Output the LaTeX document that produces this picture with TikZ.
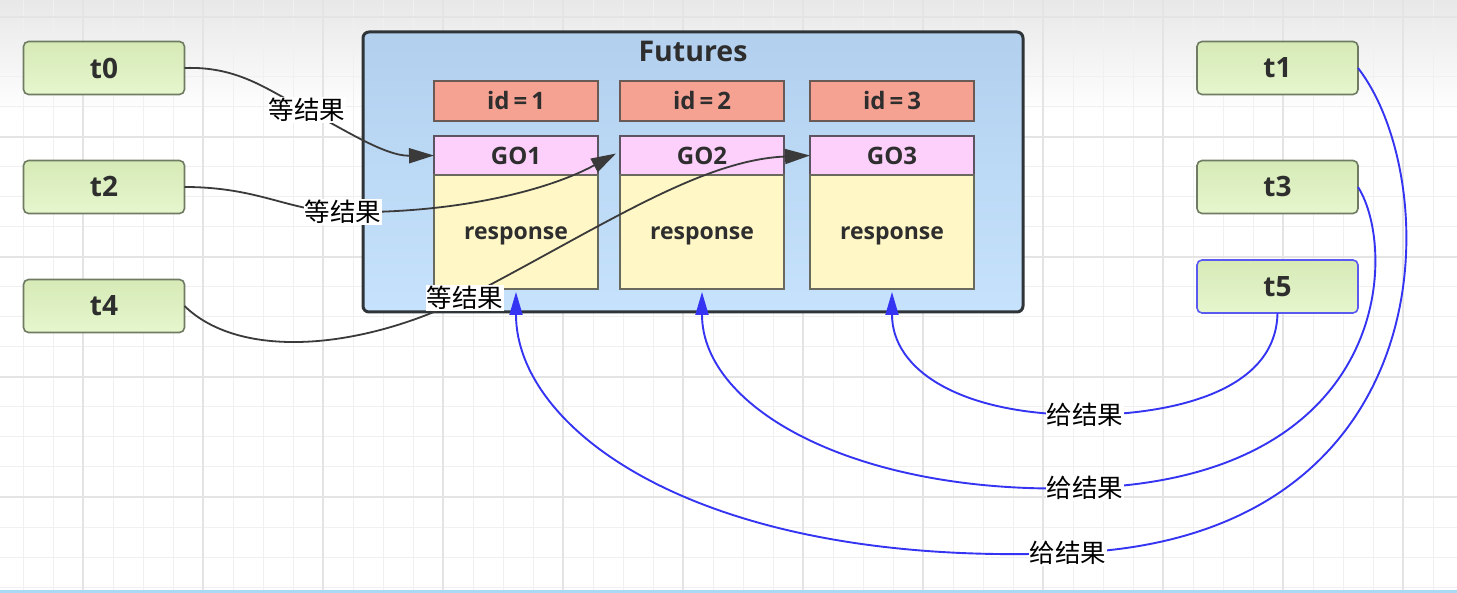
\documentclass[tikz,border=0pt]{standalone}
\usepackage{fontspec}
\setmainfont{Open Sans}
\newfontfamily\cjk{Noto Sans CJK SC}
\usetikzlibrary{arrows.meta}
\definecolor{txt}{HTML}{2E2E2E}
\definecolor{tfillA}{HTML}{D6EAB6}
\definecolor{tfillB}{HTML}{E6F6CE}
\definecolor{tborder}{HTML}{6F7C63}
\definecolor{tblue}{HTML}{5A5AF0}
\definecolor{futA}{HTML}{B2D0EE}
\definecolor{futB}{HTML}{C6E2FC}
\definecolor{futborder}{HTML}{2F3438}
\definecolor{idfill}{HTML}{F5A292}
\definecolor{idborder}{HTML}{6A5A56}
\definecolor{gofill}{HTML}{FCD0FB}
\definecolor{goborder}{HTML}{5C5460}
\definecolor{respfill}{HTML}{FFF7C6}
\definecolor{respborder}{HTML}{6A695E}
\definecolor{darkline}{HTML}{3A3A3A}
\definecolor{blueline}{HTML}{3434F2}
\definecolor{gridminor}{HTML}{F0F0F0}
\definecolor{gridmajor}{HTML}{E4E4E4}
\definecolor{bottomline}{HTML}{A9D8F2}
\begin{document}
\begin{tikzpicture}[x=1pt,y=-1pt,
  tnode/.style={rectangle, rounded corners=5pt, draw=tborder, line width=1.6pt,
    top color=tfillA, bottom color=tfillB, minimum width=161pt, minimum height=53pt,
    inner sep=0pt, outer sep=0pt, text=txt, font=\fontsize{28}{30}\selectfont\bfseries},
  futbox/.style={rectangle, rounded corners=6pt, draw=futborder, line width=3pt,
    top color=futA, bottom color=futB, minimum width=660pt, minimum height=280pt,
    inner sep=0pt, outer sep=0pt},
  title/.style={text=txt, font=\fontsize{28.5}{30}\selectfont\bfseries, inner sep=0pt},
  idbox/.style={rectangle, draw=idborder, line width=1.5pt, fill=idfill,
    minimum width=164pt, minimum height=40pt, inner sep=0pt, outer sep=0pt,
    text=txt, font=\fontsize{24}{26}\selectfont\bfseries},
  gobox/.style={rectangle, draw=goborder, line width=1.5pt, fill=gofill,
    minimum width=164pt, minimum height=39pt, inner sep=0pt, outer sep=0pt,
    text=txt, font=\fontsize{24}{26}\selectfont\bfseries},
  respbox/.style={rectangle, draw=respborder, line width=1.5pt, fill=respfill,
    minimum width=164pt, minimum height=114pt, inner sep=0pt, outer sep=0pt,
    text height=16pt, text depth=0pt,
    text=txt, font=\fontsize{23}{25}\selectfont\bfseries},
  lbl/.style={fill=white, inner sep=1pt, text=black, font=\fontsize{25.5}{27}\selectfont\cjk},
  darr/.style={draw=darkline, line width=1.8pt, -{Triangle[length=25pt,width=15pt]}},
  barr/.style={draw=blueline, line width=1.9pt, -{Triangle[length=23pt,width=13pt]}},
]
\useasboundingbox (0,0) rectangle (1457,593);
\fill[white] (0,0) rectangle (1457,593);
\shade[top color=black!9, bottom color=white] (0,0) rectangle (1457,115);
\foreach \gx in {23,53,...,1457} \draw[gridminor, line width=1pt] (\gx,0) -- (\gx,593);
\foreach \gy in {17,47,...,593} \draw[gridminor, line width=1pt] (0,\gy) -- (1457,\gy);
\foreach \gx in {83,203,...,1457} \draw[gridmajor, line width=1.2pt] (\gx,0) -- (\gx,593);
\foreach \gy in {17,137,...,593} \draw[gridmajor, line width=1.2pt] (0,\gy) -- (1457,\gy);
\fill[bottomline] (0,590) rectangle (1457,593);

% thread nodes
\node[tnode] (t0) at (104,68) {t0};
\node[tnode] (t2) at (104,187) {t2};
\node[tnode] (t4) at (104,306) {t4};
\node[tnode] (t1) at (1277.5,68) {t1};
\node[tnode] (t3) at (1277.5,187) {t3};
\node[tnode, draw=tblue] (t5) at (1277.5,286.5) {t5};

% futures container
\node[futbox] (fut) at (693,172) {};
\node[title] (futt) at (693,51) {Futures};
\node[idbox] (id1) at (516,101) {id\,=\,1};
\node[idbox] (id2) at (702,101) {id\,=\,2};
\node[idbox] (id3) at (892,101) {id\,=\,3};
\node[gobox] (go1) at (516,155.5) {GO1};
\node[gobox] (go2) at (702,155.5) {GO2};
\node[gobox] (go3) at (892,155.5) {GO3};
\node[respbox] (r1) at (516,232) {response};
\node[respbox] (r2) at (702,232) {response};
\node[respbox] (r3) at (892,232) {response};

% waiting connectors
\draw[darr] (t0.east) .. controls (240,66) and (270,92) .. (307,110)
  node[lbl] (w1) {等结果} .. controls (345,130) and (385,156) .. (go1.west);
\draw[darr] (t2.east) .. controls (260,187) and (290,212) .. (343,212)
  node[lbl] (w2) {等结果} .. controls (450,214) and (545,192) .. ([xshift=-4pt,yshift=2pt]go2.west);
\draw[darr] (t4.east) .. controls (240,360) and (360,350) .. (465,298)
  node[lbl] (w3) {等结果} .. controls (600,228) and (700,160) .. (go3.west);

% giving connectors
\draw[barr] (t5.south) .. controls (1276,400) and (1150,415) .. (1085,415)
  node[lbl] (g1) {给结果} .. controls (960,415) and (892,370) .. ([yshift=-3pt]r3.south);
\draw[barr] (t3.east) .. controls (1398,250) and (1392,478) .. (1085,488)
  node[lbl] (g2) {给结果} .. controls (860,496) and (702,410) .. ([yshift=-3pt]r2.south);
\draw[barr] (t1.east) .. controls (1445,180) and (1450,540) .. (1068,553)
  node[lbl] (g3) {给结果} .. controls (700,568) and (516,430) .. ([yshift=-3pt]r1.south);
\end{tikzpicture}
\end{document}
